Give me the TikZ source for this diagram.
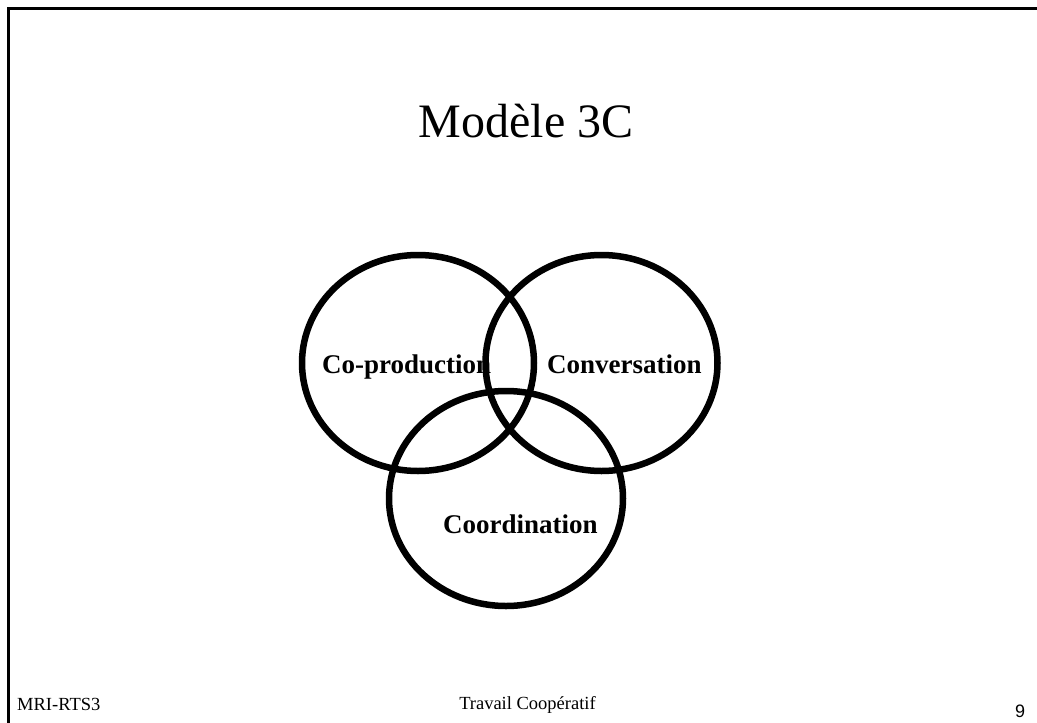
\documentclass[tikz,border=0pt]{standalone}
\usepackage{fontspec}
\setmainfont{Liberation Serif}
\newfontfamily\armfont{Liberation Sans}
\usetikzlibrary{shapes.geometric}
\tikzset{
  ring/.style={draw=black, line width=6.5pt, ellipse, inner sep=0pt, minimum width=232pt, minimum height=216pt},
  lbl/.style={inner sep=0pt, font=\fontsize{27}{32}\selectfont\bfseries},
  foot/.style={inner sep=0pt, font=\fontsize{18.5}{22}\selectfont},
  frame/.style={line width=3pt, draw=black}
}
\begin{document}
\begin{tikzpicture}[x=1pt,y=-1pt]
\useasboundingbox (0,0) rectangle (1037,723);
\coordinate (fA) at (8,723);
\coordinate (fB) at (8,8);
\coordinate (fC) at (1037,8);
\draw[frame] (fA) -- (fB) -- (fC);
\node[inner sep=0pt, anchor=base, font=\fontsize{48}{58}\selectfont] (title) at (526,137) {Modèle 3C};
\node[lbl, anchor=base west] (lprod) at (322,373) {Co-production};
\node[lbl, anchor=base west] (lconv) at (547,373) {Conversation};
\node[lbl, anchor=base west] (lcoord) at (443,533) {Coordination};
\node[ring] (prod) at (418,363) {};
\node[ring] (conv) at (601.5,363) {};
\node[ring, minimum width=234pt, minimum height=215pt] (coord) at (506,498.5) {};
\node[foot, anchor=base west] (fleft) at (17,710) {MRI-RTS3};
\node[foot, anchor=base] (fmid) at (527.5,709) {Travail Coopératif};
\node[inner sep=0pt, anchor=base, font=\armfont\fontsize{18}{22}\selectfont] (fnum) at (1020,717) {9};
\end{tikzpicture}
\end{document}
